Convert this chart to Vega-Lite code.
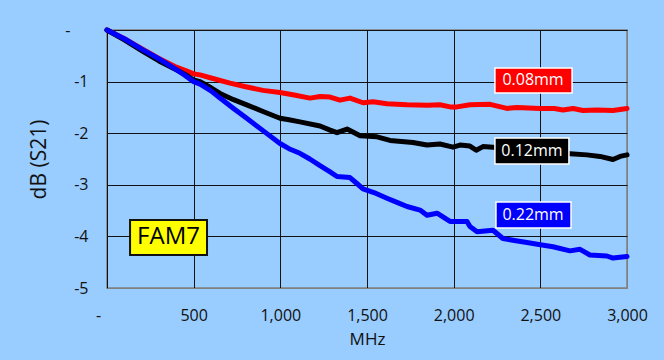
{
  "$schema": "https://vega.github.io/schema/vega-lite/v6.json",
  "width": 520,
  "height": 258,
  "autosize": {"type": "none"},
  "padding": {"left": 107, "top": 30, "right": 37, "bottom": 72},
  "background": "#99CCFF",
  "config": {
    "font": "Open Sans",
    "view": {"fill": "#99CCFF", "stroke": "#808080", "strokeWidth": 1.5},
    "axis": {
      "domain": false,
      "ticks": false,
      "grid": true,
      "gridOpacity": 1,
      "gridWidth": 1,
      "labelFlush": false,
      "labelOverlap": false,
      "labelColor": "#111111",
      "titleColor": "#111111",
      "labelFontSize": 16,
      "titleFontWeight": "normal",
      "labelFont": "Open Sans",
      "titleFont": "Open Sans"
    }
  },
  "datasets": {
    "curves": [
      {"f": 0, "v": 0, "s": "0.08mm"},
      {"f": 100, "v": -0.17, "s": "0.08mm"},
      {"f": 200, "v": -0.36, "s": "0.08mm"},
      {"f": 300, "v": -0.55, "s": "0.08mm"},
      {"f": 400, "v": -0.72, "s": "0.08mm"},
      {"f": 450, "v": -0.78, "s": "0.08mm"},
      {"f": 500, "v": -0.85, "s": "0.08mm"},
      {"f": 537, "v": -0.87, "s": "0.08mm"},
      {"f": 600, "v": -0.93, "s": "0.08mm"},
      {"f": 710, "v": -1.03, "s": "0.08mm"},
      {"f": 800, "v": -1.1, "s": "0.08mm"},
      {"f": 900, "v": -1.17, "s": "0.08mm"},
      {"f": 998, "v": -1.21, "s": "0.08mm"},
      {"f": 1080, "v": -1.26, "s": "0.08mm"},
      {"f": 1171, "v": -1.32, "s": "0.08mm"},
      {"f": 1229, "v": -1.29, "s": "0.08mm"},
      {"f": 1287, "v": -1.3, "s": "0.08mm"},
      {"f": 1344, "v": -1.36, "s": "0.08mm"},
      {"f": 1402, "v": -1.32, "s": "0.08mm"},
      {"f": 1477, "v": -1.41, "s": "0.08mm"},
      {"f": 1535, "v": -1.39, "s": "0.08mm"},
      {"f": 1615, "v": -1.43, "s": "0.08mm"},
      {"f": 1731, "v": -1.45, "s": "0.08mm"},
      {"f": 1850, "v": -1.46, "s": "0.08mm"},
      {"f": 1921, "v": -1.45, "s": "0.08mm"},
      {"f": 1979, "v": -1.49, "s": "0.08mm"},
      {"f": 2019, "v": -1.49, "s": "0.08mm"},
      {"f": 2094, "v": -1.45, "s": "0.08mm"},
      {"f": 2210, "v": -1.44, "s": "0.08mm"},
      {"f": 2307, "v": -1.52, "s": "0.08mm"},
      {"f": 2365, "v": -1.5, "s": "0.08mm"},
      {"f": 2498, "v": -1.52, "s": "0.08mm"},
      {"f": 2580, "v": -1.52, "s": "0.08mm"},
      {"f": 2631, "v": -1.55, "s": "0.08mm"},
      {"f": 2689, "v": -1.52, "s": "0.08mm"},
      {"f": 2746, "v": -1.56, "s": "0.08mm"},
      {"f": 2827, "v": -1.55, "s": "0.08mm"},
      {"f": 2919, "v": -1.56, "s": "0.08mm"},
      {"f": 3000, "v": -1.52, "s": "0.08mm"},

      {"f": 0, "v": 0, "s": "0.12mm"},
      {"f": 100, "v": -0.19, "s": "0.12mm"},
      {"f": 200, "v": -0.4, "s": "0.12mm"},
      {"f": 300, "v": -0.6, "s": "0.12mm"},
      {"f": 400, "v": -0.77, "s": "0.12mm"},
      {"f": 450, "v": -0.86, "s": "0.12mm"},
      {"f": 500, "v": -0.97, "s": "0.12mm"},
      {"f": 537, "v": -1.0, "s": "0.12mm"},
      {"f": 600, "v": -1.12, "s": "0.12mm"},
      {"f": 652, "v": -1.23, "s": "0.12mm"},
      {"f": 730, "v": -1.35, "s": "0.12mm"},
      {"f": 806, "v": -1.45, "s": "0.12mm"},
      {"f": 900, "v": -1.58, "s": "0.12mm"},
      {"f": 998, "v": -1.71, "s": "0.12mm"},
      {"f": 1050, "v": -1.74, "s": "0.12mm"},
      {"f": 1113, "v": -1.78, "s": "0.12mm"},
      {"f": 1229, "v": -1.86, "s": "0.12mm"},
      {"f": 1287, "v": -1.94, "s": "0.12mm"},
      {"f": 1327, "v": -1.99, "s": "0.12mm"},
      {"f": 1385, "v": -1.92, "s": "0.12mm"},
      {"f": 1460, "v": -2.05, "s": "0.12mm"},
      {"f": 1558, "v": -2.07, "s": "0.12mm"},
      {"f": 1633, "v": -2.14, "s": "0.12mm"},
      {"f": 1765, "v": -2.18, "s": "0.12mm"},
      {"f": 1846, "v": -2.23, "s": "0.12mm"},
      {"f": 1921, "v": -2.21, "s": "0.12mm"},
      {"f": 1996, "v": -2.27, "s": "0.12mm"},
      {"f": 2037, "v": -2.23, "s": "0.12mm"},
      {"f": 2094, "v": -2.25, "s": "0.12mm"},
      {"f": 2130, "v": -2.33, "s": "0.12mm"},
      {"f": 2169, "v": -2.26, "s": "0.12mm"},
      {"f": 2227, "v": -2.27, "s": "0.12mm"},
      {"f": 2300, "v": -2.33, "s": "0.12mm"},
      {"f": 2400, "v": -2.35, "s": "0.12mm"},
      {"f": 2500, "v": -2.37, "s": "0.12mm"},
      {"f": 2600, "v": -2.4, "s": "0.12mm"},
      {"f": 2671, "v": -2.4, "s": "0.12mm"},
      {"f": 2769, "v": -2.42, "s": "0.12mm"},
      {"f": 2844, "v": -2.45, "s": "0.12mm"},
      {"f": 2919, "v": -2.51, "s": "0.12mm"},
      {"f": 2960, "v": -2.45, "s": "0.12mm"},
      {"f": 3000, "v": -2.42, "s": "0.12mm"},

      {"f": 0, "v": 0, "s": "0.22mm"},
      {"f": 100, "v": -0.17, "s": "0.22mm"},
      {"f": 200, "v": -0.37, "s": "0.22mm"},
      {"f": 300, "v": -0.56, "s": "0.22mm"},
      {"f": 400, "v": -0.77, "s": "0.22mm"},
      {"f": 450, "v": -0.88, "s": "0.22mm"},
      {"f": 500, "v": -1.0, "s": "0.22mm"},
      {"f": 537, "v": -1.05, "s": "0.22mm"},
      {"f": 600, "v": -1.18, "s": "0.22mm"},
      {"f": 652, "v": -1.32, "s": "0.22mm"},
      {"f": 730, "v": -1.52, "s": "0.22mm"},
      {"f": 806, "v": -1.71, "s": "0.22mm"},
      {"f": 900, "v": -1.95, "s": "0.22mm"},
      {"f": 998, "v": -2.2, "s": "0.22mm"},
      {"f": 1050, "v": -2.3, "s": "0.22mm"},
      {"f": 1113, "v": -2.39, "s": "0.22mm"},
      {"f": 1170, "v": -2.5, "s": "0.22mm"},
      {"f": 1229, "v": -2.63, "s": "0.22mm"},
      {"f": 1287, "v": -2.75, "s": "0.22mm"},
      {"f": 1327, "v": -2.84, "s": "0.22mm"},
      {"f": 1402, "v": -2.86, "s": "0.22mm"},
      {"f": 1440, "v": -2.97, "s": "0.22mm"},
      {"f": 1477, "v": -3.08, "s": "0.22mm"},
      {"f": 1540, "v": -3.15, "s": "0.22mm"},
      {"f": 1615, "v": -3.26, "s": "0.22mm"},
      {"f": 1680, "v": -3.35, "s": "0.22mm"},
      {"f": 1731, "v": -3.42, "s": "0.22mm"},
      {"f": 1806, "v": -3.49, "s": "0.22mm"},
      {"f": 1846, "v": -3.59, "s": "0.22mm"},
      {"f": 1904, "v": -3.55, "s": "0.22mm"},
      {"f": 1979, "v": -3.71, "s": "0.22mm"},
      {"f": 2077, "v": -3.71, "s": "0.22mm"},
      {"f": 2094, "v": -3.81, "s": "0.22mm"},
      {"f": 2135, "v": -3.91, "s": "0.22mm"},
      {"f": 2227, "v": -3.88, "s": "0.22mm"},
      {"f": 2284, "v": -4.04, "s": "0.22mm"},
      {"f": 2350, "v": -4.08, "s": "0.22mm"},
      {"f": 2423, "v": -4.12, "s": "0.22mm"},
      {"f": 2500, "v": -4.16, "s": "0.22mm"},
      {"f": 2573, "v": -4.2, "s": "0.22mm"},
      {"f": 2671, "v": -4.28, "s": "0.22mm"},
      {"f": 2729, "v": -4.25, "s": "0.22mm"},
      {"f": 2786, "v": -4.36, "s": "0.22mm"},
      {"f": 2884, "v": -4.38, "s": "0.22mm"},
      {"f": 2919, "v": -4.42, "s": "0.22mm"},
      {"f": 3000, "v": -4.39, "s": "0.22mm"}
    ],
    "labels": [
      {"s": "0.08mm", "x1": 2238, "x2": 2683, "y1": -0.736, "y2": -1.221, "xc": 2458, "yc": -0.975},
      {"s": "0.12mm", "x1": 2238, "x2": 2665, "y1": -2.093, "y2": -2.597, "xc": 2452, "yc": -2.345},
      {"s": "0.22mm", "x1": 2244, "x2": 2677, "y1": -3.333, "y2": -3.837, "xc": 2458, "yc": -3.585}
    ],
    "note": [
      {"t": "FAM7", "x1": 133, "x2": 577, "y1": -3.682, "y2": -4.36, "xc": 355, "yc": -4.02}
    ]
  },
  "layer": [
    {
      "data": {"name": "curves"},
      "mark": {"type": "line", "strokeWidth": 5, "strokeJoin": "round", "strokeCap": "round"},
      "encoding": {
        "x": {
          "field": "f", "type": "quantitative", "title": "MHz",
          "scale": {"domain": [0, 3000], "nice": false, "zero": false},
          "axis": {
            "values": [0, 500, 1000, 1500, 2000, 2500, 3000],
            "labelExpr": "datum.value == 0 ? '-' : format(datum.value, ',d')",
            "labelOffset": {"condition": {"test": "datum.value == 0", "value": -9}, "value": 0},
            "labelPadding": 19,
            "titleFontSize": 17,
            "titlePadding": 8,
            "gridColor": {"condition": {"test": "datum.value == 3000", "value": "#808080"}, "value": "#111111"}
          }
        },
        "y": {
          "field": "v", "type": "quantitative", "title": "dB (S21)",
          "scale": {"domain": [-5, 0], "nice": false, "zero": false},
          "axis": {
            "values": [-5, -4, -3, -2, -1, 0],
            "labelExpr": "datum.value == 0 ? '-' : '-' + abs(datum.value)",
            "labelPadding": {"condition": {"test": "datum.value == 0", "value": 37}, "value": 19},
            "titleFontSize": 21,
            "titlePadding": 15,
            "gridColor": {"condition": {"test": "datum.value == -5", "value": "#808080"}, "value": "#111111"}
          }
        },
        "color": {
          "field": "s", "type": "nominal", "legend": null,
          "scale": {"domain": ["0.08mm", "0.12mm", "0.22mm"], "range": ["#FF0000", "#000000", "#0000FF"]}
        }
      }
    },
    {
      "data": {"name": "labels"},
      "mark": {"type": "rect", "stroke": "#FFFFFF", "strokeWidth": 1.5},
      "encoding": {
        "x": {"field": "x1", "type": "quantitative", "title": "MHz"},
        "x2": {"field": "x2"},
        "y": {"field": "y1", "type": "quantitative", "title": "dB (S21)"},
        "y2": {"field": "y2"},
        "fill": {
          "field": "s", "type": "nominal", "legend": null,
          "scale": {"domain": ["0.08mm", "0.12mm", "0.22mm"], "range": ["#FF0000", "#000000", "#0000FF"]}
        }
      }
    },
    {
      "data": {"name": "labels"},
      "mark": {"type": "text", "color": "#FFFFFF", "fontSize": 16, "baseline": "middle", "align": "center", "font": "Open Sans"},
      "encoding": {
        "x": {"field": "xc", "type": "quantitative", "title": "MHz"},
        "y": {"field": "yc", "type": "quantitative", "title": "dB (S21)"},
        "text": {"field": "s"}
      }
    },
    {
      "data": {"name": "note"},
      "mark": {"type": "rect", "fill": "#FFFF00", "stroke": "#111111", "strokeWidth": 2},
      "encoding": {
        "x": {"field": "x1", "type": "quantitative", "title": "MHz"},
        "x2": {"field": "x2"},
        "y": {"field": "y1", "type": "quantitative", "title": "dB (S21)"},
        "y2": {"field": "y2"}
      }
    },
    {
      "data": {"name": "note"},
      "mark": {"type": "text", "color": "#000000", "fontSize": 24, "baseline": "middle", "align": "center", "font": "Open Sans"},
      "encoding": {
        "x": {"field": "xc", "type": "quantitative", "title": "MHz"},
        "y": {"field": "yc", "type": "quantitative", "title": "dB (S21)"},
        "text": {"field": "t"}
      }
    }
  ]
}
